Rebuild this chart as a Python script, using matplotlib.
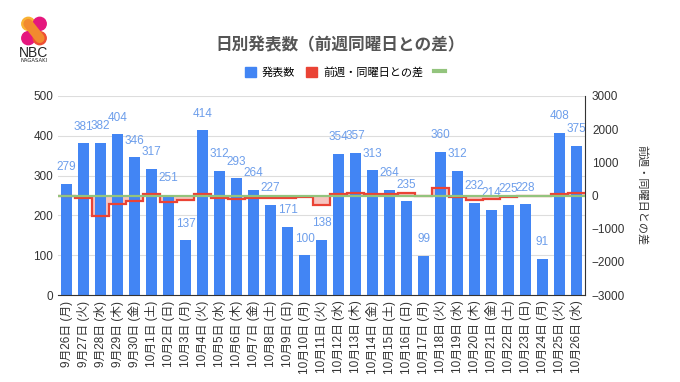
import numpy as np
import matplotlib
matplotlib.use('Agg')
import matplotlib.pyplot as plt
from matplotlib.patches import Patch, Circle
from matplotlib.lines import Line2D

plt.rcParams['font.family'] = ['Noto Sans CJK JP', 'DejaVu Sans']
latin = ['Liberation Sans', 'Noto Sans CJK JP']

# data
dates = ['9月26日', '9月27日', '9月28日', '9月29日', '9月30日',
         '10月1日', '10月2日', '10月3日', '10月4日', '10月5日', '10月6日', '10月7日',
         '10月8日', '10月9日', '10月10日', '10月11日', '10月12日', '10月13日', '10月14日',
         '10月15日', '10月16日', '10月17日', '10月18日', '10月19日', '10月20日', '10月21日',
         '10月22日', '10月23日', '10月24日', '10月25日', '10月26日']
weekdays = ['月', '火', '水', '木', '金', '土', '日'] * 4 + ['月', '火', '水']
counts = [279, 381, 382, 404, 346, 317, 251, 137, 414, 312, 293, 264, 227, 171, 100, 138,
          354, 357, 313, 264, 235, 99, 360, 312, 232, 214, 225, 228, 91, 408, 375]
diff = [-20, -70, -610, -250, -160, 55, -210, -125, 33, -70, -111, -82, -90, -80, -37, -276,
        42, 64, 49, 37, 64, -1, 222, -42, -125, -99, -39, -7, -8, 48, 63]

blue = '#4285f4'
red = '#ea4335'
green = '#93c47d'

labels = [d + ' (' + w + ')' for d, w in zip(dates, weekdays)]
x = np.arange(len(counts))

fig = plt.figure(figsize=(6.8, 3.82), dpi=100)
ax = fig.add_axes([0.0853, 0.2277, 0.7750, 0.5210])
ax2 = ax.twinx()

# bars on the left axis
ax.bar(x, counts, width=0.64, color=blue, zorder=2)
for xi, c in zip(x, counts):
    ax.annotate(str(c), (xi, c), xytext=(0, 12), textcoords='offset points',
                ha='center', va='center', fontsize=8.5, color='#6d9eeb', family=latin)

ax.set_xlim(-0.5, len(counts) - 0.5)
ax.set_ylim(0, 500)
ax.set_yticks(range(0, 501, 100))
ax.yaxis.grid(True, color='#dddddd', linewidth=0.8, zorder=0)
ax.set_axisbelow(True)
ax.set_xticks(x)
ax.set_xticklabels(labels, rotation=90, fontsize=7.3, color='#333333', family=latin)
ax.tick_params(axis='both', length=0, colors='#333333', labelsize=8.5)
ax.tick_params(axis='x', pad=4)
for t in ax.get_yticklabels():
    t.set_family(latin)
for s in ['top', 'right', 'left']:
    ax.spines[s].set_visible(False)
ax.spines['bottom'].set_color('#333333')

# step line of difference vs same weekday last week (fill sits behind the bars)
edges = np.arange(len(diff) + 1) - 0.5
ax.stairs(diff, edges, baseline=0, fill=True, color='#f6c4bf', linewidth=0, zorder=1.5,
          transform=ax2.transData)
ax2.stairs(diff, edges, baseline=None, color=red, linewidth=1.6, zorder=3)
ax2.plot([-0.5, len(diff) - 0.5], [0, 0], color=green, linewidth=1.6, zorder=4)
ax2.set_ylim(-3000, 3000)
ax2.set_yticks(range(-3000, 3001, 1000))
ax2.tick_params(axis='y', length=0, colors='#333333', labelsize=8.5, pad=5)
for t in ax2.get_yticklabels():
    t.set_family(latin)
for s in ['top', 'left', 'bottom']:
    ax2.spines[s].set_visible(False)
ax2.spines['right'].set_color('#333333')
ax2.set_ylabel('前週・同曜日との差', rotation=-90, fontsize=8, color='#333333', labelpad=12,
               va='center')

# title and legend
fig.text(0.5, 1 - 45 / 382, '日別発表数（前週同曜日との差）', ha='center', va='center',
         fontsize=12, fontweight='bold', color='#555555')
handles = [Patch(color=blue), Patch(color=red), Line2D([], [], color=green, linewidth=3)]
fig.legend(handles, ['発表数', '前週・同曜日との差', ''], loc='center',
           bbox_to_anchor=(348 / 680, 1 - 72 / 382), ncol=3, frameon=False, fontsize=8,
           handlelength=1.0, handleheight=1.0, columnspacing=1.0, handletextpad=0.5)

# simple logo
lax = fig.add_axes([21 / 680, 1 - 46 / 382, 26 / 680, 30 / 382])
lax.set_xlim(0, 1)
lax.set_ylim(0, 1.15)
lax.axis('off')
lax.plot([0.28, 0.72], [0.85, 0.3], color='#f28a2e', linewidth=7, solid_capstyle='round')
lax.add_patch(Circle((0.28, 0.85), 0.25, color='#f9b233'))
lax.add_patch(Circle((0.72, 0.85), 0.25, color='#e5177e'))
lax.add_patch(Circle((0.28, 0.3), 0.25, color='#e5177e'))
lax.add_patch(Circle((0.72, 0.3), 0.25, color='#ee4e34'))
fig.text(34 / 680, 1 - 53 / 382, 'NBC', ha='center', va='center', fontsize=10,
         color='#222222', family='Liberation Sans')
fig.text(34 / 680, 1 - 61 / 382, 'NAGASAKI', ha='center', va='center', fontsize=3.8,
         color='#222222', family='DejaVu Sans')

fig.savefig('out.png', dpi=100)
